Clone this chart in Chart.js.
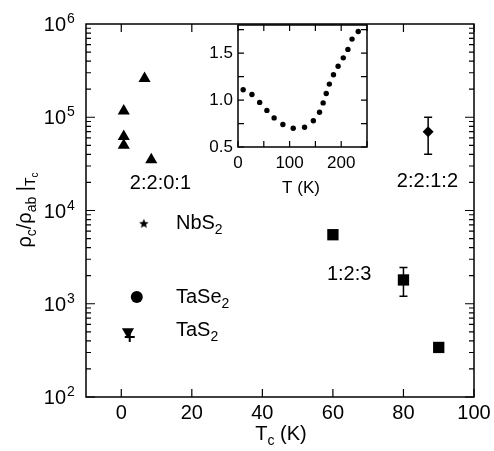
<!DOCTYPE html>
<html>
<head>
<meta charset="utf-8">
<script src="https://cdn.jsdelivr.net/npm/chart.js@4.4.0/dist/chart.umd.min.js"></script>
<style>
body { margin: 0; background: #fff; }
#wrap { position: relative; width: 494px; height: 451px; }
#main { position: absolute; left: 0; top: 0; }
#inset { position: absolute; left: 180px; top: 0; }
</style>
</head>
<body>
<div id="wrap">
  <canvas id="main" width="494" height="451"></canvas>
  <canvas id="inset" width="200" height="200"></canvas>
</div>
<script>
/***** Data *****/
// 2:2:0:1 compounds (triangles)
const tc2201 = [6.6, 0.7, 0.7, 0.7, 8.5];
const rho2201 = [2.6e5, 1.17e5, 6.2e4, 5.0e4, 3.5e4];
// 2:2:1:2 (diamond, with error bar)
const tc2212 = [87];
const rho2212 = [7.0e4];
const rho2212Lo = [4.0e4];
const rho2212Hi = [1.0e5];
// 1:2:3 (squares, middle one with error bar)
const tc123 = [60, 80, 90];
const rho123 = [5.5e3, 1.8e3, 3.4e2];
const rho123Lo = [null, 1.2e3, null];
const rho123Hi = [null, 2.45e3, null];
// dichalcogenides
const tcNbS2 = [6.4];
const rhoNbS2 = [7.2e3];
const tcTaSe2 = [4.4];
const rhoTaSe2 = [1.18e3];
const tcTaS2 = [1.9];
const rhoTaS2 = [500];
const tcTaS2b = [2.4];
const rhoTaS2b = [440];
// inset: ratio vs temperature
const insetT = [10, 27, 42, 56, 70, 87, 107, 129, 146, 158, 165, 171, 177, 185, 194, 204, 213, 221, 233];
const insetRatio = [1.11, 1.06, 0.975, 0.89, 0.81, 0.74, 0.70, 0.71, 0.78, 0.87, 0.97, 1.07, 1.17, 1.27, 1.36, 1.45, 1.54, 1.65, 1.73];
// axes
const xTickVals = [0, 20, 40, 60, 80, 100];
const yDecades = [2, 3, 4, 5, 6];
const insetXTicks = [0, 50, 100, 150, 200, 250];
const insetYTicks = [0.5, 0.75, 1.0, 1.25, 1.5, 1.75];
// text labels placed in data coordinates: [text, subscript, Tc, rho, align]
const annotations = [
    ["2:2:0:1", "", 11.1, 2.04e4, "center"],
    ["2:2:1:2", "", 86.8, 2.15e4, "center"],
    ["1:2:3", "", 64.6, 2.12e3, "center"],
    ["NbS", "2", 15.5, 7.45e3, "left"],
    ["TaSe", "2", 15.5, 1.22e3, "left"],
    ["TaS", "2", 15.5, 532, "left"]
];

const FONT = "'Liberation Sans', Arial, Helvetica, sans-serif";

function pts(xs, ys) {
    return xs.map((x, i) => ({x: x, y: ys[i]}));
}

function starImage(r) { //filled five point star used as point style
    let c = document.createElement('canvas');
    let s = Math.ceil(r * 2) + 2;
    c.width = s; c.height = s;
    let g = c.getContext('2d');
    g.fillStyle = '#000';
    g.beginPath();
    for (let i = 0; i < 10; i++) {
        let a = -Math.PI / 2 + i * Math.PI / 5;
        let rr = (i % 2) ? r * 0.45 : r;
        g.lineTo(s / 2 + rr * Math.cos(a), s / 2 + rr * Math.sin(a));
    }
    g.closePath();
    g.fill();
    return c;
}

function drawSubText(ctx, parts, x, y, align) { //parts: [text, size, dy]
    let w = 0;
    parts.forEach(p => { ctx.font = p[1] + "px " + FONT; w += ctx.measureText(p[0]).width; });
    let cx = x;
    if (align === "center") cx = x - w / 2;
    ctx.textAlign = "left";
    ctx.textBaseline = "alphabetic";
    parts.forEach(p => {
        ctx.font = p[1] + "px " + FONT;
        ctx.fillText(p[0], cx, y + p[2]);
        cx += ctx.measureText(p[0]).width;
    });
}

function errorBar(ctx, xs, x, lo, hi) {
    let px = xs.x.getPixelForValue(x);
    let y1 = xs.y.getPixelForValue(lo);
    let y2 = xs.y.getPixelForValue(hi);
    ctx.beginPath();
    ctx.moveTo(px, y1); ctx.lineTo(px, y2);
    ctx.moveTo(px - 4, y1); ctx.lineTo(px + 4, y1);
    ctx.moveTo(px - 4, y2); ctx.lineTo(px + 4, y2);
    ctx.stroke();
}

/***** Main chart decorations *****/
const mainDecor = {
    id: 'mainDecor',
    afterDraw(chart) {
        const ctx = chart.ctx;
        const a = chart.chartArea;
        const sx = chart.scales.x, sy = chart.scales.y;
        ctx.save();
        ctx.strokeStyle = '#000';
        ctx.fillStyle = '#000';
        ctx.lineWidth = 1.5;
        ctx.strokeRect(a.left, a.top, a.right - a.left, a.bottom - a.top);
        ctx.lineWidth = 1.2;
        //x ticks, inward on bottom and top
        ctx.beginPath();
        xTickVals.forEach(v => {
            let px = sx.getPixelForValue(v);
            ctx.moveTo(px, a.bottom); ctx.lineTo(px, a.bottom - 8);
            ctx.moveTo(px, a.top); ctx.lineTo(px, a.top + 8);
        });
        //log ticks, inward on left and right
        for (let e = yDecades[0]; e < yDecades[yDecades.length - 1]; e++) {
            for (let m = 1; m <= 9; m++) {
                let py = sy.getPixelForValue(m * Math.pow(10, e));
                let len = (m === 1) ? 9 : 5;
                ctx.moveTo(a.left, py); ctx.lineTo(a.left + len, py);
                ctx.moveTo(a.right, py); ctx.lineTo(a.right - len, py);
            }
        }
        ctx.stroke();
        //x tick labels
        ctx.font = "20px " + FONT;
        ctx.textAlign = "center";
        ctx.textBaseline = "alphabetic";
        xTickVals.forEach(v => {
            ctx.fillText(String(v), sx.getPixelForValue(v), a.bottom + 22);
        });
        //y tick labels 10^n
        yDecades.forEach(e => {
            let py = sy.getPixelForValue(Math.pow(10, e));
            ctx.font = "20px " + FONT;
            ctx.textAlign = "right";
            ctx.textBaseline = "alphabetic";
            ctx.fillText("10", 66, py + 7);
            ctx.font = "14px " + FONT;
            ctx.textAlign = "left";
            ctx.fillText(String(e), 67, py - 1);
        });
        //error bars
        ctx.lineWidth = 1.5;
        const scl = {x: sx, y: sy};
        tc2212.forEach((x, i) => errorBar(ctx, scl, x, rho2212Lo[i], rho2212Hi[i]));
        tc123.forEach((x, i) => {
            if (rho123Lo[i] !== null) errorBar(ctx, scl, x, rho123Lo[i], rho123Hi[i]);
        });
        //labels
        annotations.forEach(t => {
            let px = sx.getPixelForValue(t[2]);
            let py = sy.getPixelForValue(t[3]) + 7;
            let parts = [[t[0], 20, 0]];
            if (t[1]) parts.push([t[1], 14, 5]);
            drawSubText(ctx, parts, px, py, t[4]);
        });
        //x title
        drawSubText(ctx, [["T", 20, 0], ["c", 14, 5], [" (K)", 20, 0]], 281, 440, "center");
        //y title, rotated
        ctx.translate(31, 210);
        ctx.rotate(-Math.PI / 2);
        drawSubText(ctx, [["\u03c1", 20, 0], ["c", 14, 5], ["/", 20, 0], ["\u03c1", 20, 0], ["ab", 14, 5],
            [" |", 20, 0], ["T", 14, 4], ["c", 10, 7]], 0, 0, "center");
        ctx.restore();
    }
};

new Chart(document.getElementById('main'), {
    type: 'scatter',
    data: {
        datasets: [
            {data: pts(tc2201, rho2201), pointStyle: 'triangle', pointRadius: 7, backgroundColor: '#000', borderColor: '#000', borderWidth: 0},
            {data: pts(tc2212, rho2212), pointStyle: 'rectRot', pointRadius: 5.5, backgroundColor: '#000', borderColor: '#000', borderWidth: 0},
            {data: pts(tc123, rho123), pointStyle: 'rect', pointRadius: 8, backgroundColor: '#000', borderColor: '#000', borderWidth: 0},
            {data: pts(tcNbS2, rhoNbS2), pointStyle: starImage(5)},
            {data: pts(tcTaSe2, rhoTaSe2), pointStyle: 'circle', pointRadius: 6, backgroundColor: '#000', borderColor: '#000', borderWidth: 0},
            {data: pts(tcTaS2, rhoTaS2), pointStyle: 'triangle', rotation: 180, pointRadius: 7, backgroundColor: '#000', borderColor: '#000', borderWidth: 0},
            {data: pts(tcTaS2b, rhoTaS2b), pointStyle: 'cross', pointRadius: 5, backgroundColor: '#000', borderColor: '#000', borderWidth: 2}
        ]
    },
    options: {
        responsive: false,
        animation: false,
        devicePixelRatio: 1,
        layout: {padding: {top: 24, right: 20, left: 0, bottom: 0}},
        plugins: {legend: {display: false}, tooltip: {enabled: false}},
        scales: {
            x: {
                type: 'linear', min: -10, max: 100,
                afterFit: s => { s.height = 54; },
                grid: {display: false, drawTicks: false},
                border: {display: false},
                ticks: {display: false}
            },
            y: {
                type: 'logarithmic', min: 100, max: 1e6,
                afterFit: s => { s.width = 86; },
                grid: {display: false, drawTicks: false},
                border: {display: false},
                ticks: {display: false}
            }
        }
    },
    plugins: [mainDecor]
});

/***** Inset *****/
const insetDecor = {
    id: 'insetDecor',
    beforeDraw(chart) {
        const a = chart.chartArea;
        chart.ctx.save();
        chart.ctx.fillStyle = '#fff';
        chart.ctx.fillRect(a.left, a.top, a.right - a.left, a.bottom - a.top);
        chart.ctx.restore();
    },
    afterDraw(chart) {
        const ctx = chart.ctx;
        const a = chart.chartArea;
        const sx = chart.scales.x, sy = chart.scales.y;
        ctx.save();
        ctx.strokeStyle = '#000';
        ctx.fillStyle = '#000';
        ctx.lineWidth = 1.5;
        ctx.strokeRect(a.left, a.top, a.right - a.left, a.bottom - a.top);
        ctx.lineWidth = 1.2;
        ctx.beginPath();
        insetXTicks.forEach(v => {
            let px = sx.getPixelForValue(v);
            ctx.moveTo(px, a.bottom); ctx.lineTo(px, a.bottom - 6);
            ctx.moveTo(px, a.top); ctx.lineTo(px, a.top + 6);
        });
        insetYTicks.forEach(v => {
            let py = sy.getPixelForValue(v);
            ctx.moveTo(a.left, py); ctx.lineTo(a.left + 6, py);
            ctx.moveTo(a.right, py); ctx.lineTo(a.right - 6, py);
        });
        ctx.stroke();
        drawSubText(ctx, [["T (K)", 17, 0]], 121, 193, "center");
        ctx.restore();
    }
};

new Chart(document.getElementById('inset'), {
    type: 'scatter',
    data: {
        datasets: [{
            data: pts(insetT, insetRatio),
            pointStyle: 'circle', pointRadius: 2.7,
            backgroundColor: '#000', borderColor: '#000', borderWidth: 0
        }]
    },
    options: {
        responsive: false,
        animation: false,
        devicePixelRatio: 1,
        layout: {padding: {top: 25, right: 13, left: 0, bottom: 0}},
        plugins: {legend: {display: false}, tooltip: {enabled: false}},
        scales: {
            x: {
                type: 'linear', min: 0, max: 250,
                afterFit: s => { s.height = 53; },
                grid: {display: false, drawTicks: false},
                border: {display: false},
                ticks: {stepSize: 50, autoSkip: false, maxRotation: 0, color: '#000', padding: 6,
                    font: {family: FONT, size: 17},
                    callback: v => (v % 100 === 0 ? String(v) : '')}
            },
            y: {
                type: 'linear', min: 0.5, max: 1.8,
                afterFit: s => { s.width = 58; },
                grid: {display: false, drawTicks: false},
                border: {display: false},
                ticks: {stepSize: 0.25, autoSkip: false, color: '#000', padding: 5,
                    font: {family: FONT, size: 17},
                    callback: v => (Math.abs(v * 2 - Math.round(v * 2)) < 1e-6 ? v.toFixed(1) : '')}
            }
        }
    },
    plugins: [insetDecor]
});
</script>
</body>
</html>
